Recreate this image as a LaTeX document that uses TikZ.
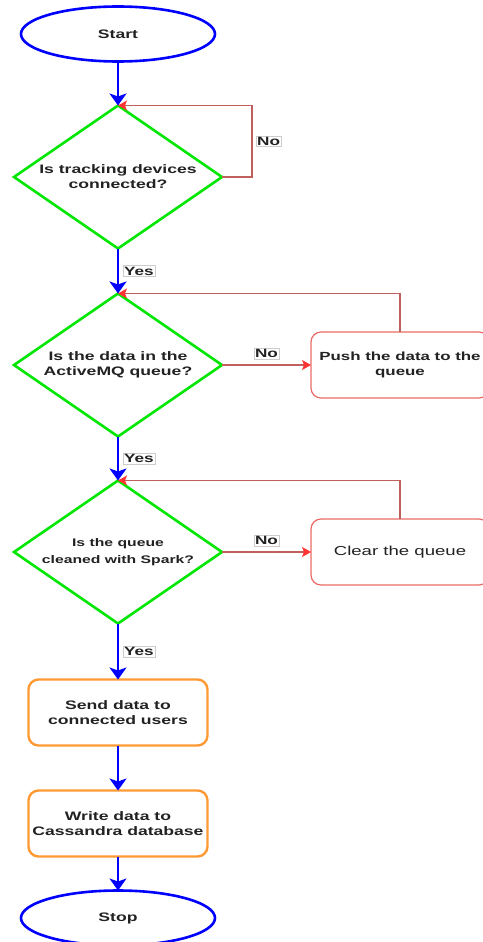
\documentclass[tikz,border=0pt]{standalone}
\usepackage{fontspec}
\usepackage{xcolor}
\usepackage{tikz}
\usetikzlibrary{shapes.geometric,arrows.meta,positioning}
\newfontfamily\flowfont[FakeStretch=1.43]{Liberation Sans}
\definecolor{flowblue}{HTML}{0000FF}
\definecolor{flowgreen}{HTML}{00E600}
\definecolor{flowline}{HTML}{C0605C}
\definecolor{flowtip}{HTML}{FF3333}
\definecolor{flowred}{HTML}{EA6B66}
\definecolor{floworange}{HTML}{FF9933}
\definecolor{flowtext}{HTML}{222222}

\begin{document}
\begin{tikzpicture}[
    every node/.style={outer sep=0pt, text=flowtext, font=\flowfont\bfseries\fontsize{12.3}{15}\selectfont},
    node distance=44pt and 89pt,
    terminal/.style={ellipse, draw=flowblue, line width=2.6pt, minimum width=194pt, minimum height=55pt, inner sep=0pt},
    decision/.style={diamond, aspect=1.45, draw=flowgreen, line width=2.6pt, minimum width=208pt, minimum height=143pt, inner sep=0pt, align=center},
    process/.style={rectangle, rounded corners=10pt, draw=floworange, line width=2.4pt, minimum width=179pt, minimum height=66pt, align=center},
    fixup/.style={rectangle, rounded corners=10pt, draw=flowred, line width=1.2pt, minimum width=178pt, minimum height=66pt, align=center},
    yesarr/.style={-{Stealth[length=12pt, width=17pt, inset=3pt]}, line width=2.6pt, draw=flowblue},
    noarr/.style={-{Stealth[length=9pt, width=10pt, inset=2pt, color=flowtip]}, line width=1.2pt, draw=flowline},
    lbl/.style={fill=white, draw=black!20, line width=0.6pt, inner sep=1.2pt, font=\flowfont\bfseries\fontsize{12}{13}\selectfont}
]
    \useasboundingbox (-118pt,34pt) rectangle (364pt,-908pt);

    % Nodes
    \node (start) [terminal] {Start};

    \node (dev) [decision, below=of start] {Is tracking devices\\connected?};

    \node (mq) [decision, below=45pt of dev] {Is the data in the\\ActiveMQ queue?};

    \node (push) [fixup, right=of mq, font=\flowfont\bfseries\fontsize{11.8}{15}\selectfont] {Push the data to the\\queue};

    \node (spark) [decision, below=of mq, font=\flowfont\bfseries\fontsize{11}{17}\selectfont] {Is the queue\\cleaned with Spark?};

    \node (clear) [fixup, right=of spark, font=\flowfont\fontsize{13}{15}\selectfont] {Clear the queue};

    \node (send) [process, below=56pt of spark] {Send data to\\connected users};

    \node (write) [process, below=45pt of send] {Write data to\\Cassandra database};

    \node (stop) [terminal, below=34pt of write] {Stop};

    % Connectors
    \draw [yesarr] (start) -- (dev);
    \draw [noarr] (dev.east) -- ++(30pt,0) |- node [lbl, right=4pt, pos=0.25] {No} (dev.north);
    \draw [yesarr] (dev) -- node [lbl, right=5pt] {Yes} (mq);
    \draw [noarr] (mq) -- node [lbl, above=6pt] {No} (push);
    \draw [noarr] (push.north) |- (mq.north);
    \draw [yesarr] (mq) -- node [lbl, right=5pt] {Yes} (spark);
    \draw [noarr] (spark) -- node [lbl, above=6pt] {No} (clear);
    \draw [noarr] (clear.north) |- (spark.north);
    \draw [yesarr] (spark) -- node [lbl, right=5pt] {Yes} (send);
    \draw [yesarr] (send) -- (write);
    \draw [yesarr] (write) -- (stop);
\end{tikzpicture}
\end{document}
